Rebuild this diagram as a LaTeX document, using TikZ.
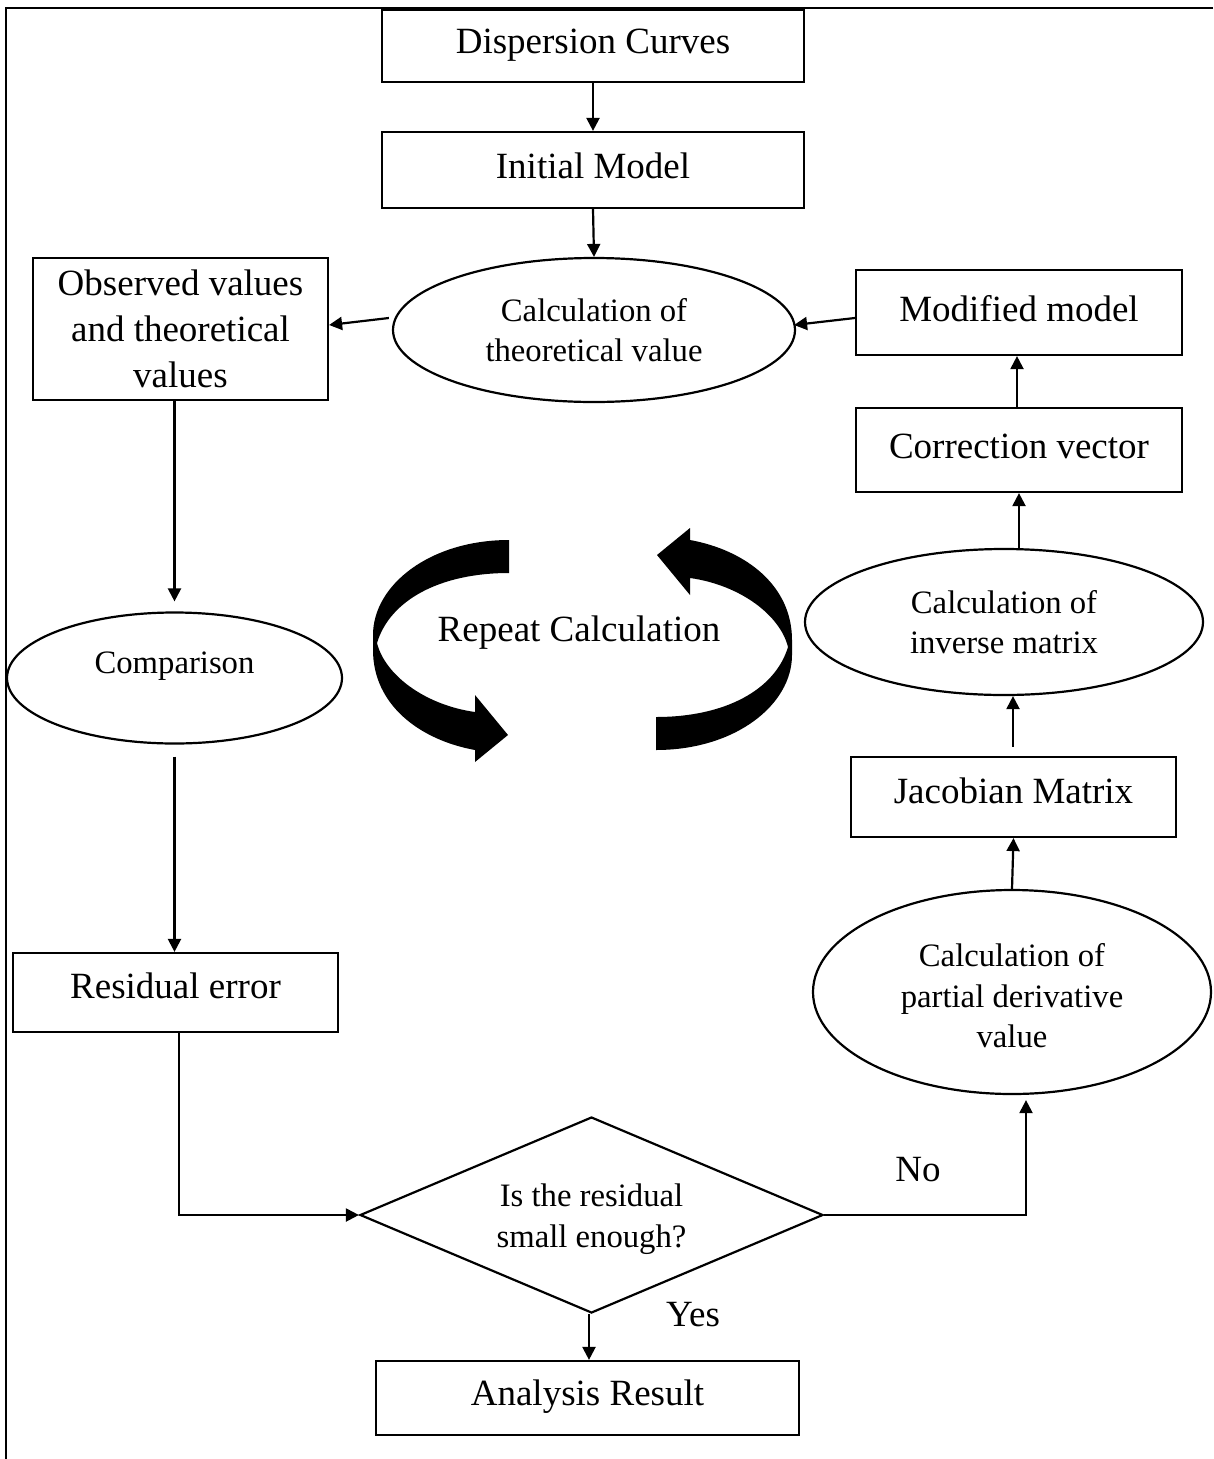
\documentclass[tikz,border=0pt]{standalone}
\usepackage{fontspec}
\setmainfont{Liberation Serif}
\usetikzlibrary{shapes.geometric,arrows.meta,calc}
\newcommand\bigf{\fontsize{37}{46}\selectfont}
\newcommand\smallf{\fontsize{32.7}{40.5}\selectfont}
\newcommand\lift[2]{\raisebox{#1}[\height][\depth]{#2}}
\newcommand\liftlines[2]{\raisebox{#1}[\height][\depth]{\begin{tabular}{@{}c@{}}#2\end{tabular}}}
\tikzset{
  box/.style={draw, line width=2.2pt, rectangle, inner sep=0pt, align=center, font=\bigf},
  oval/.style={draw, line width=2.2pt, ellipse, inner sep=0pt, align=center, font=\smallf},
  conn/.style={line width=2.2pt, -{Triangle[length=13pt,width=13pt]}},
  lbl/.style={font=\bigf, inner sep=0pt},
}
\begin{document}
\begin{tikzpicture}[x=1pt,y=-1pt]
\useasboundingbox (0,0) rectangle (1213,1459);
% page frame (top and left edges)
\draw[line width=2.5pt] (1213,8) -- (6,8) -- (6,1459);

\node[box, minimum width=422pt, minimum height=72pt] (disp) at (593,46) {\lift{1pt}{Dispersion Curves}};
\node[box, minimum width=422pt, minimum height=76pt] (init) at (593,170) {\lift{4pt}{Initial Model}};
\node[oval, minimum width=402pt, minimum height=144pt] (theo) at (594,330) {Calculation of\\theoretical value};
\node[box, minimum width=295pt, minimum height=142pt] (obs) at (180.5,329) {Observed values\\and theoretical\\values};
\node[box, minimum width=326pt, minimum height=85pt] (mod) at (1019,312.5) {\lift{4pt}{Modified model}};
\node[box, minimum width=326pt, minimum height=84pt] (corr) at (1019,450) {\lift{4pt}{Correction vector}};
\node[oval, minimum width=398pt, minimum height=146pt] (inv) at (1004,622) {Calculation of\\inverse matrix};
\node[box, minimum width=325pt, minimum height=80pt] (jac) at (1013.5,797) {\lift{6pt}{Jacobian Matrix}};
\node[oval, minimum width=398pt, minimum height=204pt] (pd) at (1012,992) {\liftlines{-7pt}{Calculation of\\partial derivative\\value}};
\node[oval, minimum width=335pt, minimum height=131pt] (comp) at (174.5,678) {\lift{12pt}{Comparison}};
\node[box, minimum width=325pt, minimum height=79pt] (resid) at (175.5,992.5) {\lift{7pt}{Residual error}};
\node[draw, line width=2.2pt, diamond, shape aspect=2.36, minimum width=463pt, minimum height=196pt, inner sep=0pt, align=center, font=\smallf] (dia) at (591.5,1215) {\liftlines{-4pt}{Is the residual\\small enough?}};
\node[box, minimum width=423pt, minimum height=74pt] (res) at (587.5,1398) {\lift{1pt}{Analysis Result}};

\node[lbl] (no) at (918,1170) {No};
\node[lbl] (yes) at (693,1315) {Yes};
\node[lbl] (rep) at (579,633) {Repeat Calculation};

% connectors
\draw[conn] (disp.south) -- (init.north);
\draw[conn] (init.south) -- (theo.north);
\draw[conn] ([xshift=-3pt,yshift=12pt]theo.west) -- ([yshift=4pt]obs.east);
\draw[conn] ([yshift=-5.5pt]mod.west) -- ([xshift=-2pt,yshift=5pt]theo.east);
\draw[conn] ([xshift=-2pt]corr.north) -- ([xshift=-2pt]mod.south);
\draw[conn] (inv.north -| corr.south) -- (corr.south);
\draw[conn] ([xshift=-0.5pt,yshift=9pt]jac.north) -- ([xshift=-0.5pt]jac.north |- inv.south);
\draw[conn] (pd.north) -- (jac.south);
\draw[conn] (obs.south -| comp.north) -- ([yshift=10pt]comp.north);
\draw[conn] ([yshift=-12pt]comp.south) -- (resid.north -| comp.south);
\draw[conn] ([xshift=3.5pt]resid.south) |- (dia.west);
\draw[conn] (dia.east) -| ($(pd.south)+(14,5)$);
\draw[conn] ([xshift=-2.5pt]dia.south) -- ([xshift=1.5pt]res.north);

% repeat-calculation ribbon arrows
\fill (509,540) .. controls (430,540) and (373,585) .. (373,635)
  -- (373,650) .. controls (373,705) and (420,740) .. (475,750)
  -- (475,762) -- (508,735) -- (475,695) -- (475,712)
  .. controls (425,705) and (385,675) .. (377,643)
  .. controls (390,600) and (440,573) .. (509,573) -- cycle;
\begin{scope}[rotate around={180:(582.5,645)}]
\fill (509,540) .. controls (430,540) and (373,585) .. (373,635)
  -- (373,650) .. controls (373,705) and (420,740) .. (475,750)
  -- (475,762) -- (508,735) -- (475,695) -- (475,712)
  .. controls (425,705) and (385,675) .. (377,643)
  .. controls (390,600) and (440,573) .. (509,573) -- cycle;
\end{scope}
\end{tikzpicture}
\end{document}
